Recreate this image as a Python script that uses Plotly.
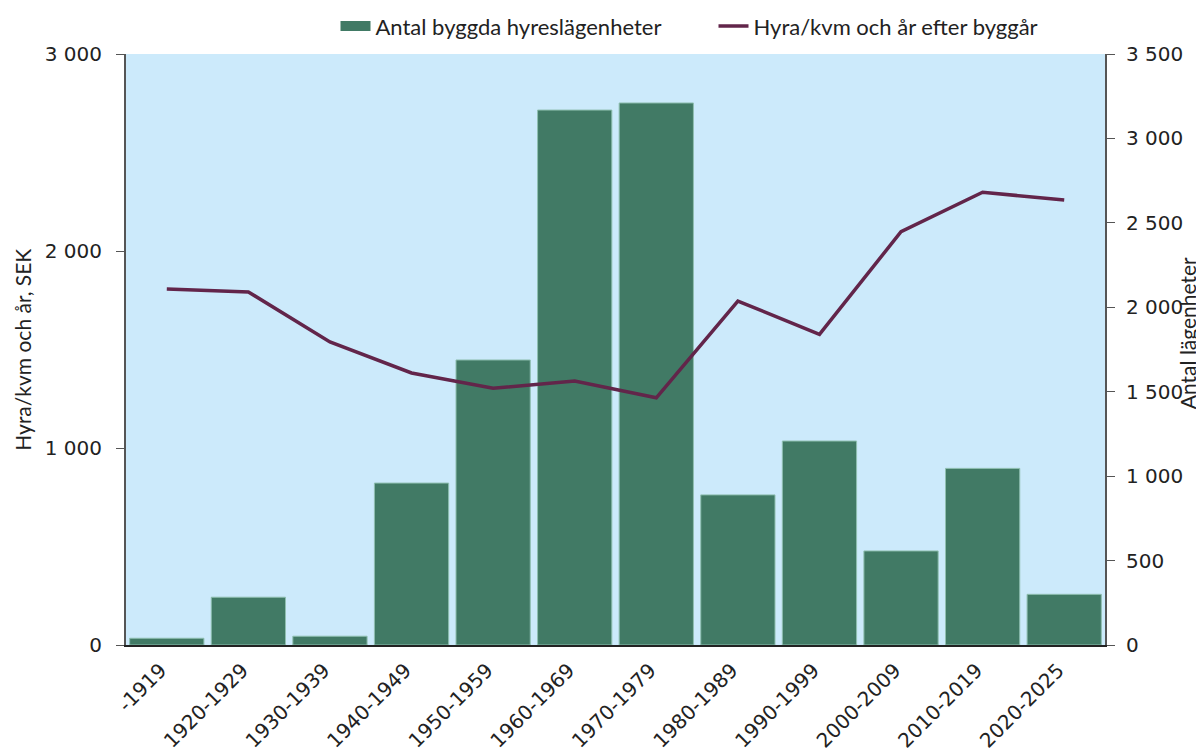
import plotly.graph_objects as go

# ─── Data ─────────────────────────────────────────────
periods = ["-1919", "1920-1929", "1930-1939", "1940-1949", "1950-1959", "1960-1969",
           "1970-1979", "1980-1989", "1990-1999", "2000-2009", "2010-2019", "2020-2025"]
antal_lgh = [40, 283, 52, 959, 1688, 3168, 3210, 889, 1208, 557, 1046, 300]
hyra_kvm = [1807, 1792, 1538, 1381, 1303, 1340, 1255, 1746, 1577, 2098, 2298, 2259]

GREEN = "#417a65"
PURPLE = "#62254a"
BG = "#cceafb"
TICK_FONT = dict(family="DejaVu Sans", size=20, color="#222222")
TEXT_FONT = "Lato"

fig = go.Figure()

# staplar (primär axel, höger sida)
fig.add_trace(go.Bar(
    x=periods,
    y=antal_lgh,
    name="Antal byggda hyreslägenheter",
    marker=dict(color=GREEN, line=dict(color="#8fbfb0", width=1)),
    showlegend=False,
    yaxis="y",
))
# legend-symbol för staplarna (bred rektangel)
fig.add_trace(go.Scatter(
    x=[None], y=[None],
    mode="lines",
    name="Antal byggda hyreslägenheter",
    line=dict(color=GREEN, width=15),
    yaxis="y",
))
# linje (vänster axel)
fig.add_trace(go.Scatter(
    x=periods,
    y=hyra_kvm,
    mode="lines",
    name="Hyra/kvm och år efter byggår",
    line=dict(color=PURPLE, width=3.5),
    yaxis="y2",
))

_axis_common = dict(
    tickformat=",d",
    tickfont=TICK_FONT,
    showgrid=False,
    zeroline=False,
    showline=True,
    linecolor="#555555",
    linewidth=2,
    ticks="outside",
    ticklen=8,
    tickcolor="#555555",
    automargin=False,
)

# sidan har 8 px marginal i body -> marginalerna kompenserar för det
fig.update_layout(
    width=1204,
    height=752,
    paper_bgcolor="white",
    plot_bgcolor=BG,
    separators=", ",
    margin=dict(l=118, r=107, t=46, b=115, autoexpand=False),
    bargap=0.09,
    font=dict(family=TEXT_FONT, size=22, color="#222222"),
    legend=dict(
        orientation="h",
        xanchor="left",
        x=0.214,
        yanchor="middle",
        y=1.047,
        entrywidth=333,
        font=dict(family=TEXT_FONT, size=22, color="#222222"),
        bgcolor="rgba(0,0,0,0)",
    ),
    xaxis=dict(
        tickangle=-45,
        tickfont=TICK_FONT,
        ticklabelstandoff=4,
        ticklabelshift=-6,
        showline=True,
        linecolor="#222222",
        linewidth=1.5,
        ticks="",
        showgrid=False,
        automargin=False,
    ),
    yaxis=dict(side="right", range=[0, 3500], dtick=500, ticklabelstandoff=7, **_axis_common),
    yaxis2=dict(side="left", overlaying="y", range=[0, 3000], dtick=1000,
                ticklabelstandoff=10, **_axis_common),
    annotations=[
        dict(text="Hyra/kvm och år, SEK", xref="paper", yref="paper",
             x=-0.106, y=0.5, xanchor="center", yanchor="middle",
             textangle=-90, showarrow=False,
             font=dict(family=TEXT_FONT, size=21, color="#222222")),
        dict(text="Antal lägenheter", xref="paper", yref="paper",
             x=1.085, y=0.528, xanchor="center", yanchor="middle",
             textangle=-90, showarrow=False,
             font=dict(family=TEXT_FONT, size=21, color="#222222")),
    ],
)

fig.write_html("out.html")
